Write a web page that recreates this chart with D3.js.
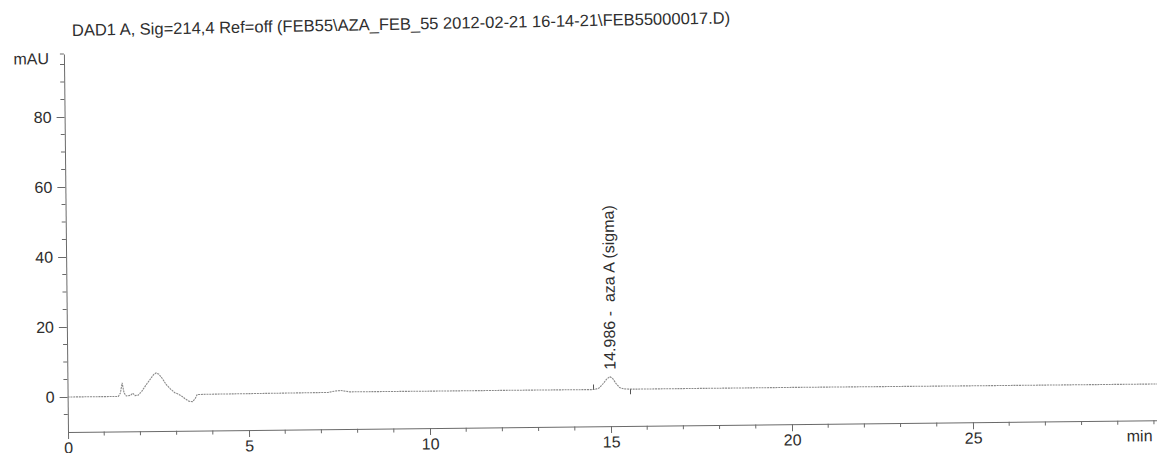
<!DOCTYPE html>
<html>
<head>
<meta charset="utf-8">
<script src="https://cdn.jsdelivr.net/npm/d3@7"></script>
<style>
  html, body { margin: 0; padding: 0; background: #fff; }
  svg { display: block; font-family: "Liberation Sans", Arial, sans-serif; }
</style>
</head>
<body>
<svg id="chart" width="1157" height="453"></svg>
<script>
// DAD1 A chromatogram, signal 214 nm
const title = "DAD1 A, Sig=214,4 Ref=off (FEB55\\AZA_FEB_55 2012-02-21 16-14-21\\FEB55000017.D)";
const yUnit = "mAU";
const xUnit = "min";

// retention time (min) and detector response (mAU)
const timeMin = [0, 1.40, 1.46, 1.51, 1.56, 1.62, 1.74, 1.80, 1.86, 1.95, 2.05, 2.17, 2.30, 2.38, 2.45,
  2.53, 2.62, 2.73, 2.84, 2.96, 3.05, 3.14, 3.25, 3.35, 3.45, 3.52, 3.58, 3.80, 5.0, 7.2, 7.4, 7.55,
  7.8, 10.0, 12.0, 14.55, 14.68, 14.80, 14.90, 14.986, 15.06, 15.15, 15.25, 15.36, 15.55, 20.0, 25.0, 30.1];
const signal = [0, 0, 1.0, 3.9, 1.0, 0.1, 0.3, 0.9, 0.2, 0.3, 1.4, 3.2, 5.0, 6.1, 6.6,
  6.2, 5.0, 3.2, 2.0, 0.9, 0.5, 0.0, -0.9, -1.6, -1.7, -0.9, 0.3, 0.35, 0.4, 0.5, 0.9, 1.0,
  0.6, 0.55, 0.55, 0.5, 0.9, 2.2, 3.5, 4.1, 3.6, 2.2, 1.0, 0.6, 0.5, 0.5, 0.4, 0.35];

// integrated peaks
const peakTimes = [14.986];
const peakHeights = [4.1];
const peakNames = ["aza A (sigma)"];
const peakStarts = [14.53];
const peakEnds = [15.55];

const xTicks = [0, 5, 10, 15, 20, 25];
const yTicks = [0, 20, 40, 60, 80];
const xMinorStep = 1;
const yMinorStep = 5;

const xDomain = [0, 30.1];
const yDomain = [-10, 98];

const svg = d3.select("#chart");
const ink = "#2e2e2e";
const axisInk = "#6a6a6a";
const traceInk = "#8a8a8a";

const x = d3.scaleLinear().domain(xDomain).range([68, 68 + 30.1 * 36.2]);
const y = d3.scaleLinear().domain(yDomain).range([432, 432 - 108 * 3.5]);

// the printed trace sits on a slightly tilted sheet
const plot = svg.append("g").attr("transform", `rotate(-0.62, ${x(0)}, ${y(yDomain[0])})`);

// title
svg.append("text")
  .attr("x", 72).attr("y", 36)
  .attr("transform", "rotate(-1.1, 72, 36)")
  .attr("fill", ink)
  .style("font-size", "16.5px")
  .text(title);

// y axis
const yAxis = plot.append("g")
  .attr("transform", `translate(${x(0)},0)`)
  .call(d3.axisLeft(y).tickValues(yTicks).tickSize(8).tickPadding(5).tickSizeOuter(0).tickFormat(d3.format("d")));
yAxis.select(".domain").attr("stroke", axisInk);
yAxis.selectAll(".tick line").attr("stroke", axisInk);
yAxis.selectAll(".tick text").attr("fill", ink).style("font-size", "16px").style("font-family", "Liberation Sans, Arial, sans-serif");

const yMinor = d3.range(yDomain[0] + yMinorStep, yDomain[1], yMinorStep).filter(v => !yTicks.includes(v));
yAxis.selectAll(".minor").data(yMinor).join("line")
  .attr("class", "minor")
  .attr("x1", -4).attr("x2", 0)
  .attr("y1", d => y(d)).attr("y2", d => y(d))
  .attr("stroke", axisInk);
yAxis.append("line")
  .attr("x1", -4).attr("x2", 0)
  .attr("y1", y(yDomain[1])).attr("y2", y(yDomain[1]))
  .attr("stroke", axisInk);
yAxis.append("text")
  .attr("x", -15).attr("y", y(yDomain[1]) + 10)
  .attr("text-anchor", "end")
  .attr("fill", ink)
  .style("font-size", "16px")
  .text(yUnit);

// x axis
const xAxis = plot.append("g")
  .attr("transform", `translate(0,${y(yDomain[0])})`)
  .call(d3.axisBottom(x).tickValues(xTicks).tickSize(7).tickPadding(3).tickSizeOuter(0).tickFormat(d3.format("d")));
xAxis.select(".domain").attr("stroke", axisInk);
xAxis.selectAll(".tick line").attr("stroke", axisInk);
xAxis.selectAll(".tick text").attr("fill", ink).style("font-size", "16px").style("font-family", "Liberation Sans, Arial, sans-serif");

const xMinor = d3.range(xDomain[0], xDomain[1], xMinorStep).filter(v => !xTicks.includes(v));
xAxis.selectAll(".minor").data(xMinor).join("line")
  .attr("class", "minor")
  .attr("x1", d => x(d)).attr("x2", d => x(d))
  .attr("y1", 0).attr("y2", 4)
  .attr("stroke", axisInk);
xAxis.append("text")
  .attr("x", x(29.6)).attr("y", 21)
  .attr("fill", ink)
  .style("font-size", "16px")
  .text(xUnit);

// trace
const series = timeMin.map((t, i) => [t, signal[i]]);
plot.append("path")
  .datum(series)
  .attr("fill", "none")
  .attr("stroke", traceInk)
  .attr("stroke-width", 1.1)
  .attr("stroke-dasharray", "2 0.8")
  .attr("d", d3.line().x(d => x(d[0])).y(d => y(d[1])));

// integration baseline markers
const baseAt = t => d3.scaleLinear().domain(timeMin).range(signal)(t);
plot.selectAll(".pk-start").data(peakStarts).join("line")
  .attr("x1", d => x(d)).attr("x2", d => x(d))
  .attr("y1", d => y(baseAt(d))).attr("y2", d => y(baseAt(d)) - 5)
  .attr("stroke", "#555");
plot.selectAll(".pk-end").data(peakEnds).join("line")
  .attr("x1", d => x(d)).attr("x2", d => x(d))
  .attr("y1", d => y(baseAt(d))).attr("y2", d => y(baseAt(d)) + 5)
  .attr("stroke", "#555");

// peak annotations
plot.selectAll(".pk-label").data(peakTimes).join("text")
  .attr("transform", (d, i) => `translate(${x(d)},${y(peakHeights[i]) - 7}) rotate(-90)`)
  .attr("dy", "0.35em")
  .attr("fill", ink)
  .style("font-size", "16px")
  .style("white-space", "pre")
  .text((d, i) => `${d3.format(".3f")(d)} -  ${peakNames[i]}`);
</script>
</body>
</html>
